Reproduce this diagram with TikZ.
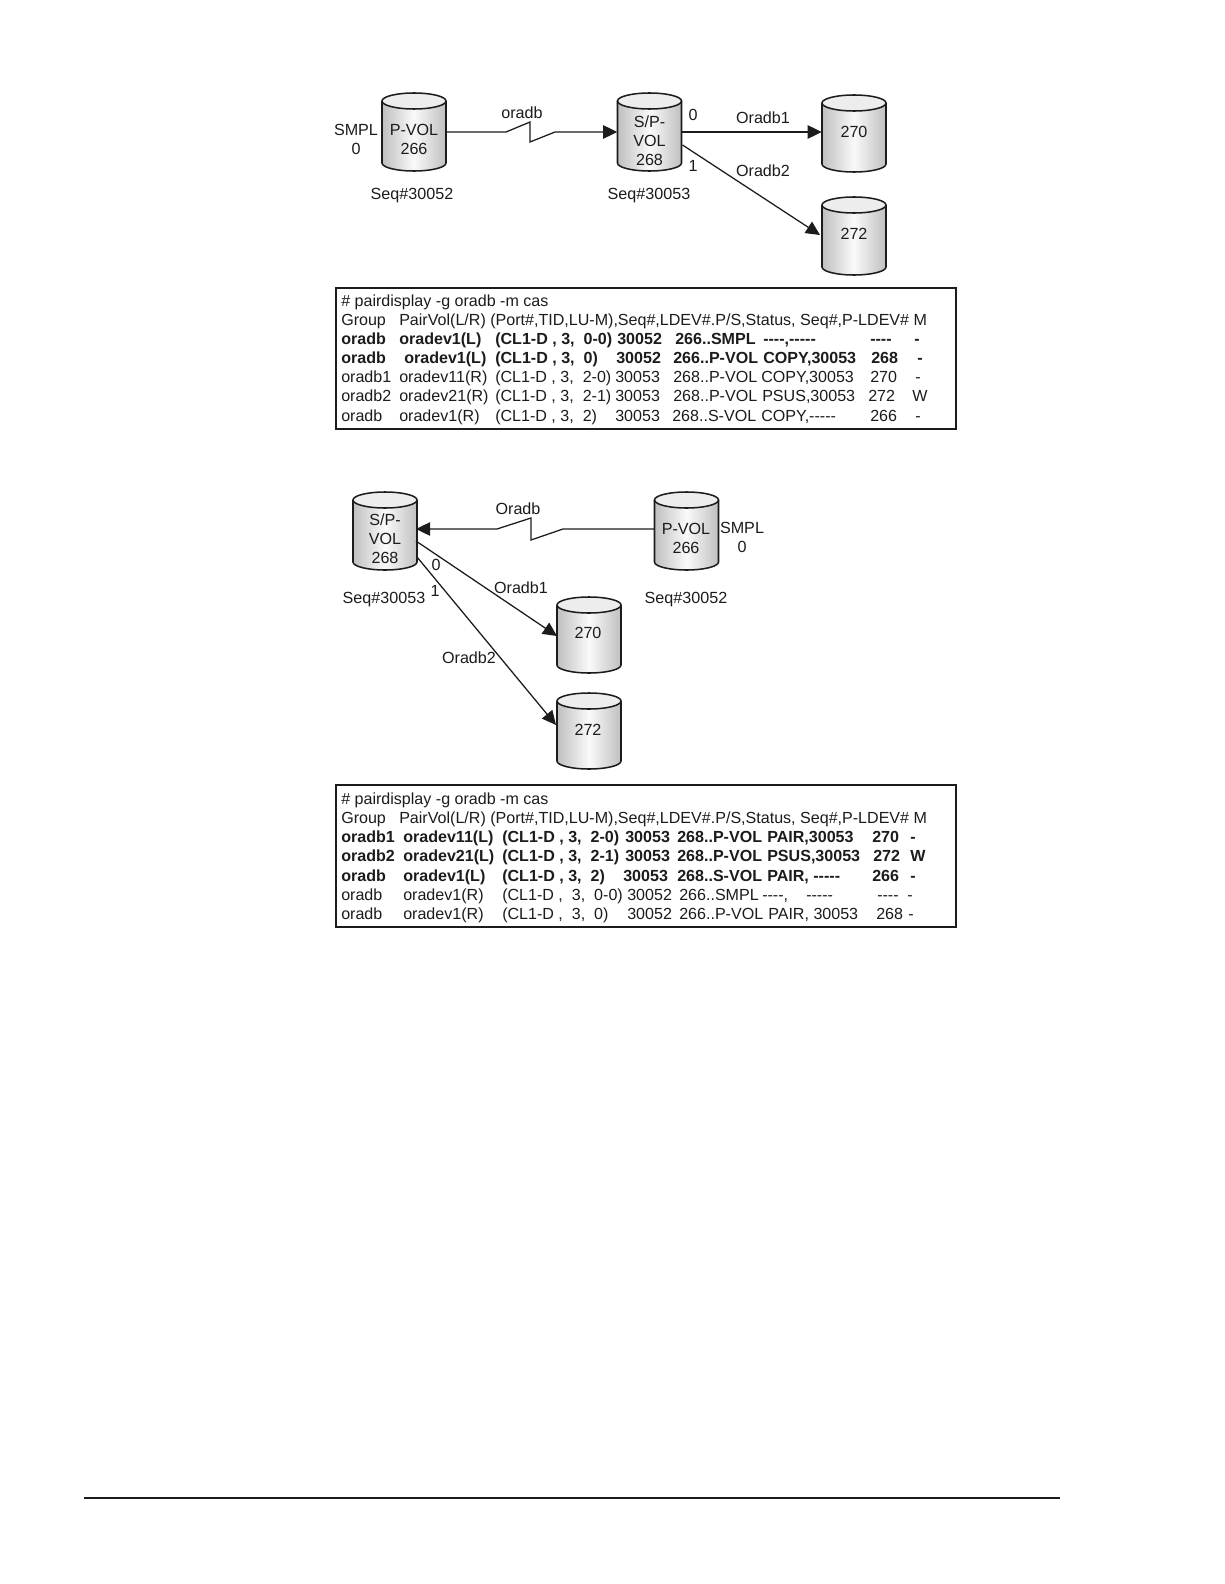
\documentclass[tikz,border=0pt]{standalone}
\usepackage{fontspec}
\setmainfont{Liberation Sans}
\usetikzlibrary{arrows.meta}
\definecolor{ink}{HTML}{1C1C1C}
\newcommand{\hh}{\hbox{-}}
\newcommand{\cyl}[4]{% name, cx, top, bottom
  \pgfmathsetmacro{\cyT}{#3+8}\pgfmathsetmacro{\cyB}{#4-8}
  \path[cylbody] (#2-32,\cyT) -- (#2-32,\cyB) arc[start angle=180,end angle=0,x radius=32,y radius=8] -- (#2+32,\cyT) -- cycle;
  \path[cylend] (#2,\cyT) ellipse[x radius=32,y radius=8];
  \draw[cylline] (#2-32,\cyT) -- (#2-32,\cyB) arc[start angle=180,end angle=0,x radius=32,y radius=8] -- (#2+32,\cyT);
  \draw[cylline] (#2,\cyT) ellipse[x radius=32,y radius=8];
  \pgfmathsetmacro{\cyC}{(#3+#4)/2}\pgfmathsetmacro{\cyH}{(#4-#3)*0.75}
  \node[cylnode,minimum height=\cyH pt] (#1) at (#2,\cyC) {};
}
\tikzset{
  lbl/.style={font=\fontsize{12.1}{14.25}\selectfont,text=ink,inner sep=0pt,align=center},
  cell/.style={font=\fontsize{12.05}{14}\selectfont,text=ink,inner sep=0pt,anchor=base west},
  boldcell/.style={cell,font=\fontsize{12.05}{14}\selectfont\bfseries},
  cylbody/.style={left color=gray!50,right color=gray!50,middle color=gray!4},
  cylend/.style={fill=gray!14},
  cylline/.style={draw=ink,line width=1.15pt},
  cylnode/.style={inner sep=0pt,minimum width=48pt},
  conn/.style={draw=ink,line width=0.95pt},
  arr/.style={conn,-{Triangle[length=10.5pt,width=10pt]}},
  tablebox/.style={draw=ink,line width=1pt,fill=white}
}
\begin{document}
\begin{tikzpicture}[x=0.75pt,y=-0.75pt]
\useasboundingbox[fill=white] (0,0) rectangle (1224,1584);
% upper diagram
\cyl{pa}{414}{93}{171}
\cyl{sa}{649.5}{93}{171}
\cyl{ca}{854}{95}{172}
\cyl{da}{854}{197}{275}
\coordinate (saB) at (682.5,145);
\coordinate (daW) at (820,235);
\draw[arr] (pa.east) -- (506,132) -- (530,122) -- (530,142) -- (555,132) -- (sa.west);
\draw[arr] (sa.east) -- (sa.east -| ca.west);
\draw[arr] (saB) -- (daW);
\node[lbl] (l1) at (356,139.5) {SMPL\\0};
\node[lbl] (l2) at (414,139.5) {P-VOL\\266};
\node[lbl] (l3) at (412,196) {Seq\#30052};
\node[lbl] (l4) at (522,113) {oradb};
\node[lbl] (l5) at (693,115) {0};
\node[lbl] (l6) at (763,118) {Oradb1};
\node[lbl] (l7) at (693,166) {1};
\node[lbl] (l8) at (763,171) {Oradb2};
\node[lbl] (l9) at (649,196) {Seq\#30053};
\node[lbl] (l10) at (649.5,141) {S/P-\\VOL\\268};
\node[lbl] (l11) at (854,132) {270};
\node[lbl] (l12) at (854,234) {272};
% upper table
\node[tablebox,minimum width=465pt,minimum height=105.75pt,inner sep=0pt] (ta) at (646,358.5) {};
\node[cell] (ta1) at (341,306) {\# pairdisplay -g oradb -m cas};
\node[cell] (ta2a) at (341,325) {Group};
\node[cell] (ta2b) at (399,325) {PairVol(L/R) (Port\#,TID,LU-M),Seq\#,LDEV\#.P/S,Status, Seq\#,P-LDEV\# M};
\foreach \x/\t in {341/oradb,399/oradev1(L),495/{(CL1-D , 3,\ \ 0-0)},617/30052,675/266..SMPL,763/{\hh\hh\hh\hh,\hh\hh\hh\hh\hh},870/\hh\hh\hh\hh,914/-}
  \node[boldcell] (ta3-\x) at (\x,344) {\t};
\foreach \x/\t in {341/oradb,404/oradev1(L),495/{(CL1-D , 3,\ \ 0)},616/30052,673/266..P-VOL,763/{COPY,30053},871/268,917/-}
  \node[boldcell] (ta4-\x) at (\x,363) {\t};
\foreach \x/\t in {341/oradb1,399/oradev11(R),495/{(CL1-D , 3,\ \ 2-0)},615/30053,673/268..P-VOL,761/{COPY,30053},870/270,915/-}
  \node[cell] (ta5-\x) at (\x,382) {\t};
\foreach \x/\t in {341/oradb2,399/oradev21(R),495/{(CL1-D , 3,\ \ 2-1)},615/30053,673/268..P-VOL,762/{PSUS,30053},868/272,912/W}
  \node[cell] (ta6-\x) at (\x,401.5) {\t};
\foreach \x/\t in {341/oradb,399/oradev1(R),495/{(CL1-D , 3,\ \ 2)},615/30053,672/268..S-VOL,761/{COPY,\hh\hh\hh\hh\hh},870/266,915/-}
  \node[cell] (ta7-\x) at (\x,421) {\t};
% lower diagram
\cyl{sb}{385}{492}{570}
\cyl{pb}{686.5}{492}{570}
\cyl{cb}{589}{597}{673}
\cyl{db}{589}{693}{769}
\coordinate (pbW) at (654,529);
\coordinate (sbE) at (416,529);
\coordinate (sbA) at (416,541);
\coordinate (sbC) at (417,557);
\coordinate (cbW) at (557,636);
\coordinate (dbW) at (556,725);
\draw[arr] (pbW) -- (563,529) -- (531,540) -- (531,518) -- (497,529) -- (sbE);
\draw[arr] (sbA) -- (cbW);
\draw[arr] (sbC) -- (dbW);
\node[lbl] (m1) at (518,509) {Oradb};
\node[lbl] (m2) at (385,539) {S/P-\\VOL\\268};
\node[lbl] (m3) at (686,538.5) {P-VOL\\266};
\node[lbl] (m4) at (742,537.5) {SMPL\\0};
\node[lbl] (m5) at (436,565) {0};
\node[lbl] (m6) at (435,591) {1};
\node[lbl] (m7) at (521,588) {Oradb1};
\node[lbl] (m8) at (384,600) {Seq\#30053};
\node[lbl] (m9) at (686,600) {Seq\#30052};
\node[lbl] (m10) at (588,633) {270};
\node[lbl] (m11) at (588,730) {272};
\node[lbl] (m12) at (469,658) {Oradb2};
% lower table
\node[tablebox,minimum width=465pt,minimum height=106.5pt,inner sep=0pt] (tb) at (646,856) {};
\node[cell] (tb1) at (341,804) {\# pairdisplay -g oradb -m cas};
\node[cell] (tb2a) at (341,823) {Group};
\node[cell] (tb2b) at (399,823) {PairVol(L/R) (Port\#,TID,LU-M),Seq\#,LDEV\#.P/S,Status, Seq\#,P-LDEV\# M};
\foreach \x/\t in {341/oradb1,403/oradev11(L),502/{(CL1-D , 3,\ \ 2-0)},625/30053,677/268..P-VOL,767/{PAIR,30053},872/270,910/-}
  \node[boldcell] (tb3-\x) at (\x,842) {\t};
\foreach \x/\t in {341/oradb2,403/oradev21(L),502/{(CL1-D , 3,\ \ 2-1)},625/30053,677/268..P-VOL,767/{PSUS,30053},873/272,910/W}
  \node[boldcell] (tb4-\x) at (\x,861) {\t};
\foreach \x/\t in {341/oradb,403/oradev1(L),502/{(CL1-D , 3,\ \ 2)},623/30053,677/268..S-VOL,767/{PAIR, \hh\hh\hh\hh\hh},872/266,910/-}
  \node[boldcell] (tb5-\x) at (\x,881) {\t};
\foreach \x/\t in {341/oradb,403/oradev1(R),502/{(CL1-D ,\ \ 3,\ \ 0-0)},627/30052,679/266..SMPL,762/{\hh\hh\hh\hh,},806/\hh\hh\hh\hh\hh,877/\hh\hh\hh\hh,907/-}
  \node[cell] (tb6-\x) at (\x,900) {\t};
\foreach \x/\t in {341/oradb,403/oradev1(R),502/{(CL1-D ,\ \ 3,\ \ 0)},627/30052,679/266..P-VOL,768/{PAIR, 30053},876/268,908/-}
  \node[cell] (tb7-\x) at (\x,919) {\t};
% page rule
\coordinate (ruleL) at (84,1498);
\coordinate (ruleR) at (1060,1498);
\draw[draw=ink,line width=1.1pt] (ruleL) -- (ruleR);
\end{tikzpicture}
\end{document}
